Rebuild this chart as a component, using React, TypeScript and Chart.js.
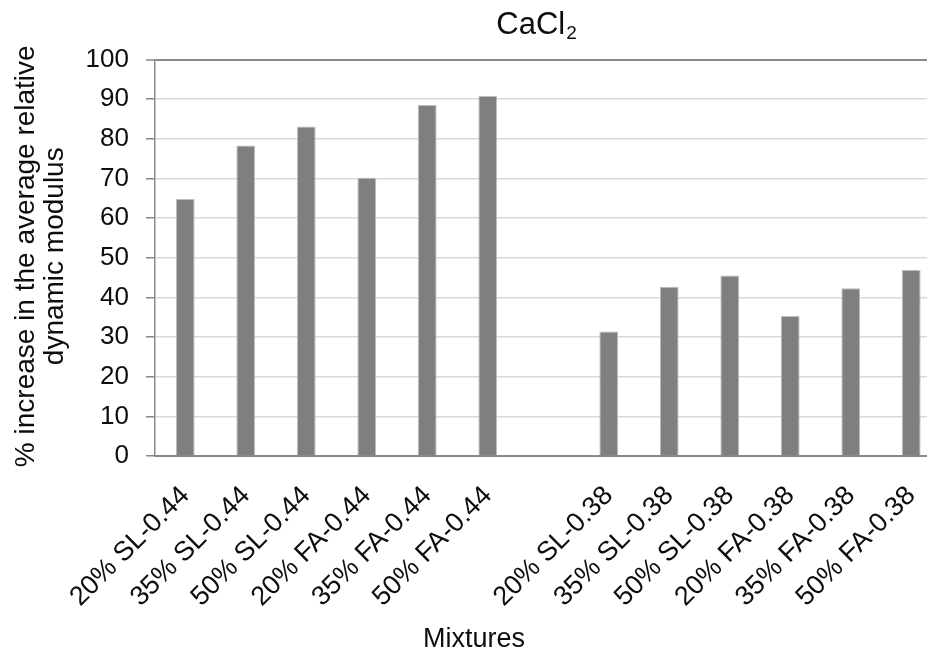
import React, { useEffect, useRef } from 'react';
import { Chart, registerables } from 'chart.js';

Chart.register(...registerables);

const categories = [
  '20% SL-0.44', '35% SL-0.44', '50% SL-0.44',
  '20% FA-0.44', '35% FA-0.44', '50% FA-0.44',
  '',
  '20% SL-0.38', '35% SL-0.38', '50% SL-0.38',
  '20% FA-0.38', '35% FA-0.38', '50% FA-0.38',
];
const values: (number | null)[] = [64.8, 78.3, 83.1, 70.2, 88.5, 90.8, null, 31.4, 42.7, 45.5, 35.3, 42.3, 46.9];
const yTicks = [0, 10, 20, 30, 40, 50, 60, 70, 80, 90, 100];
const chartTitle = 'CaCl';
const titleSub = '2';
const yTitleLines = ['% increase in the average relative', 'dynamic modulus'];
const xTitle = 'Mixtures';

const FAM = "'Liberation Sans', Arial, sans-serif";
const TEXT = '#0d0d0d';

const textPlugin = {
  id: 'customTexts',
  afterDraw(chart: any) {
    const ctx = chart.ctx as CanvasRenderingContext2D;
    ctx.save();
    ctx.fillStyle = TEXT;
    ctx.textBaseline = 'alphabetic';
    ctx.textAlign = 'left';
    ctx.font = `31px ${FAM}`;
    const w1 = ctx.measureText(chartTitle).width;
    ctx.font = `19px ${FAM}`;
    const w2 = ctx.measureText(titleSub).width;
    const x0 = 536 - (w1 + w2) / 2;
    ctx.font = `31px ${FAM}`;
    ctx.fillText(chartTitle, x0, 34);
    ctx.font = `19px ${FAM}`;
    ctx.fillText(titleSub, x0 + w1 + 1, 38.5);

    ctx.font = `28px ${FAM}`;
    ctx.textAlign = 'center';
    const cy = (chart.chartArea.top + chart.chartArea.bottom) / 2 - 1.5;
    const xs = [34, 63];
    yTitleLines.forEach((line, i) => {
      ctx.save();
      ctx.translate(xs[i], cy);
      ctx.rotate(-Math.PI / 2);
      ctx.fillText(line, 0, 0);
      ctx.restore();
    });

    ctx.font = `27px ${FAM}`;
    ctx.fillText(xTitle, 474, 647);
    ctx.restore();
  },
};

export default function App() {
  const ref = useRef<HTMLCanvasElement | null>(null);
  useEffect(() => {
    if (!ref.current) return;
    const chart = new Chart(ref.current, {
      type: 'bar',
      data: {
        labels: categories,
        datasets: [
          {
            data: values,
            backgroundColor: '#7f7f7f',
            borderColor: '#bdbdbd',
            borderWidth: 1,
            barPercentage: 0.31,
            categoryPercentage: 1.0,
          },
        ],
      },
      options: {
        responsive: false,
        animation: false,
        devicePixelRatio: 1,
        layout: { padding: { left: 0, right: 8.5, top: 59.5, bottom: 0 } },
        plugins: {
          legend: { display: false },
          title: { display: false },
          tooltip: { enabled: false },
        },
        scales: {
          x: {
            grid: { display: false, drawTicks: false },
            border: { display: true, color: '#898989', width: 2 },
            ticks: {
              autoSkip: false,
              maxRotation: 45,
              minRotation: 45,
              padding: 24,
              color: TEXT,
              font: { family: FAM, size: 27 },
            },
            afterFit: (s: any) => {
              s.height = 195;
              s.paddingLeft = 0;
              s.paddingRight = 0;
            },
          },
          y: {
            min: 0,
            max: 100,
            afterBuildTicks: (s: any) => {
              s.ticks = yTicks.map((v) => ({ value: v }));
            },
            ticks: {
              padding: 17,
              color: TEXT,
              font: { family: FAM, size: 26 },
            },
            grid: {
              color: (c: any) => (c.tick && c.tick.value === 100 ? '#898989' : '#d9d9d9'),
              lineWidth: (c: any) => (c.tick && c.tick.value === 100 ? 2 : 1.5),
              tickColor: '#898989',
              tickLength: 9,
              tickWidth: 1.5,
            },
            border: { display: true, color: '#898989', width: 1.5 },
            afterFit: (s: any) => {
              s.width = 155;
              s.paddingTop = 0;
              s.paddingBottom = 0;
            },
          },
        },
      },
      plugins: [textPlugin],
    });
    return () => chart.destroy();
  }, []);
  return (
    <div style={{ position: 'fixed', left: 0, top: 0, width: 927, height: 651, overflow: 'hidden', background: '#fff' }}>
      <canvas ref={ref} width={950} height={651} style={{ width: 950, height: 651, display: 'block' }} />
    </div>
  );
}
